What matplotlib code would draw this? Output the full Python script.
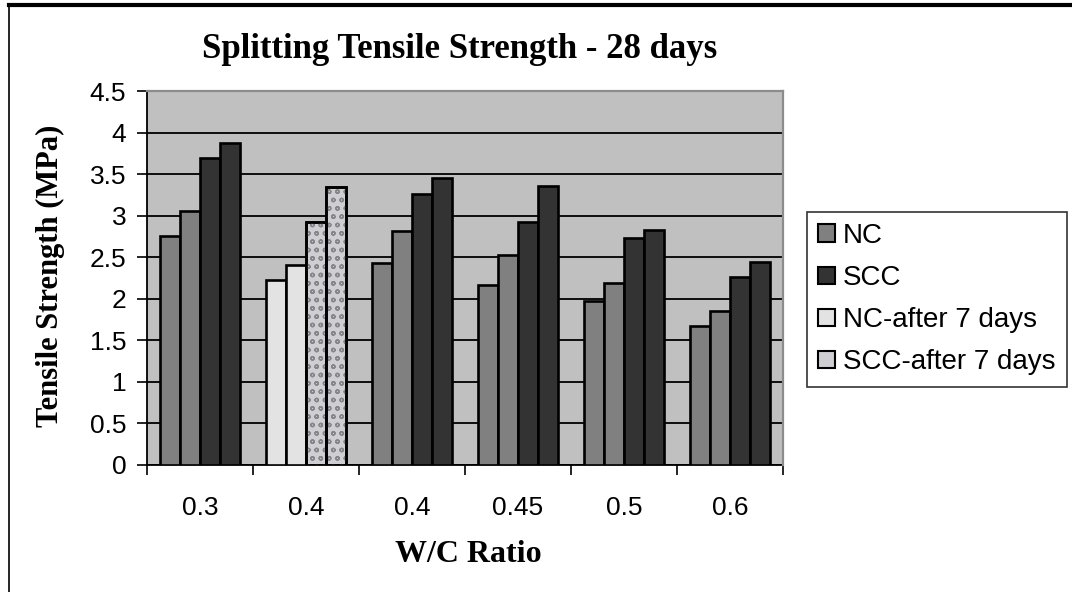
import matplotlib.pyplot as plt
from matplotlib.patches import Patch
from matplotlib.lines import Line2D
import numpy as np

# ------------------------------------------------------------
# Données : résistance à la traction par fendage (MPa)
# ------------------------------------------------------------
wc_labels = ["0.3", "0.4", "0.4", "0.45", "0.5", "0.6"]
bar_1 = [2.75, 2.23, 2.43, 2.16, 1.97, 1.67]
bar_2 = [3.06, 2.41, 2.82, 2.53, 2.19, 1.85]
bar_3 = [3.69, 2.92, 3.26, 2.92, 2.73, 2.26]
bar_4 = [3.87, 3.34, 3.45, 3.36, 2.83, 2.44]
after_7_group = 1  # groupe mesuré après 7 jours

legend_labels = ["NC", "SCC", "NC-after 7 days", "SCC-after 7 days"]

# ------------------------------------------------------------
# Styles
# ------------------------------------------------------------
c_nc = "#808080"
c_scc = "#333333"
c_nc7 = "#e3e3e3"
c_scc7 = "#cfcfd3"
c_plot = "#c0c0c0"
serif = "Liberation Serif"
sans = "Liberation Sans"

fig = plt.figure(figsize=(10.72, 5.92), dpi=100)
ax = fig.add_axes([147 / 1072, 127 / 592, 636 / 1072, 374 / 592])
ax.set_facecolor(c_plot)

x = np.arange(len(wc_labels))
w = 0.189
series = [bar_1, bar_2, bar_3, bar_4]
offsets = [-1.5, -0.5, 0.5, 1.5]

for k, (vals, off) in enumerate(zip(series, offsets)):
    for i, v in enumerate(vals):
        if i == after_7_group:
            face = c_nc7 if k < 2 else c_scc7
        else:
            face = c_nc if k < 2 else c_scc
        ax.bar(x[i] + off * w, v, width=w, color=face, edgecolor="black",
               linewidth=1.9, zorder=3)
        if i == after_7_group and k >= 2:
            # texture mouchetée
            ax.bar(x[i] + off * w, v, width=w, color="none", edgecolor="#85858a",
                   hatch="oo", linewidth=0, zorder=3.5)
            ax.bar(x[i] + off * w, v, width=w, color="none", edgecolor="black",
                   linewidth=1.9, zorder=4)

# Axes
ax.set_xlim(-0.5, len(wc_labels) - 0.5)
ax.set_ylim(0, 4.5)
ax.set_yticks(np.arange(0, 4.51, 0.5))
ax.set_yticklabels(["0", "0.5", "1", "1.5", "2", "2.5", "3", "3.5", "4", "4.5"],
                   family=sans, fontsize=19)
ax.set_xticks(np.arange(-0.5, len(wc_labels), 1.0))
ax.set_xticklabels([])
ax.set_xticks(x, minor=True)
ax.set_xticklabels(wc_labels, minor=True, family=sans, fontsize=19)
ax.tick_params(axis="x", which="major", direction="out", length=7, width=1.2)
ax.tick_params(axis="x", which="minor", length=0, pad=22)
ax.tick_params(axis="y", direction="out", length=7, width=1.2, pad=8)

ax.yaxis.grid(True, color="black", linewidth=1.3)
ax.set_axisbelow(True)
for s in ["left", "bottom"]:
    ax.spines[s].set_color("black")
    ax.spines[s].set_linewidth(1.3)
for s in ["top", "right"]:
    ax.spines[s].set_color("#8c8c8c")
    ax.spines[s].set_linewidth(1.6)
    ax.spines[s].set_zorder(5)

# Titres
fig.text(460 / 1072, 1 - 50 / 592, "Splitting Tensile Strength - 28 days",
         family=serif, weight="bold", fontsize=25, ha="center", va="center")
fig.text(50 / 1072, 1 - 276 / 592, "Tensile Strength (MPa)", family=serif,
         weight="bold", fontsize=22, rotation=90, ha="center", va="center")
fig.text(468 / 1072, 1 - 554 / 592, "W/C Ratio", family=serif, weight="bold",
         fontsize=23, ha="center", va="center")

# Légende
handles = [
    Patch(facecolor=c_nc, edgecolor="black", linewidth=1.5),
    Patch(facecolor=c_scc, edgecolor="black", linewidth=1.5),
    Patch(facecolor=c_nc7, edgecolor="black", linewidth=1.5),
    Patch(facecolor=c_scc7, edgecolor="black", linewidth=1.5),
]
leg = fig.legend(handles, legend_labels, loc="upper left",
                 bbox_to_anchor=(807 / 1072, 1 - 212 / 592), borderaxespad=0,
                 frameon=True, fancybox=False, edgecolor="black",
                 prop={"family": sans, "size": 20}, handlelength=0.6,
                 handleheight=0.6, handletextpad=0.3, labelspacing=0.58,
                 borderpad=0.4)
leg.get_frame().set_linewidth(1.2)

# Cadre de la figure
fig.add_artist(Line2D([9 / 1072, 1], [1 - 5 / 592, 1 - 5 / 592],
                      color="black", linewidth=3, transform=fig.transFigure))
fig.add_artist(Line2D([9 / 1072, 9 / 1072], [0, 1 - 5 / 592],
                      color="black", linewidth=1.2, transform=fig.transFigure))

fig.savefig("out.png", dpi=100)
